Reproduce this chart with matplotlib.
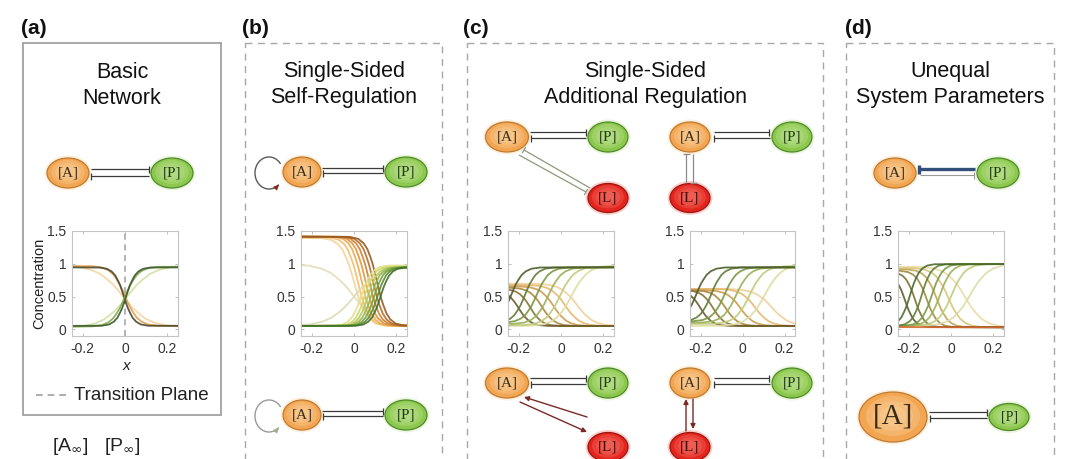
import matplotlib
matplotlib.use("Agg")
import matplotlib.pyplot as plt
from matplotlib.patches import Ellipse, Rectangle, Arc
import math

plt.rcParams['font.family'] = ['Liberation Sans', 'DejaVu Sans']
plt.rcParams['axes.unicode_minus'] = False

# sigmoid profile: offset from the curve midpoint, fraction of the start level left
shape_dx = [-0.115, -0.08, -0.0575, -0.041, -0.028, -0.018, -0.009, 0.0,
            0.009, 0.018, 0.028, 0.041, 0.0575, 0.08, 0.115]
shape_f = [0.993, 0.971, 0.924, 0.858, 0.769, 0.690, 0.599, 0.5,
           0.401, 0.310, 0.231, 0.142, 0.076, 0.029, 0.007]

x_ticks = [-0.2, 0, 0.2]
x_ticklabels = ['-0.2', '0', '0.2']
y_ticks = [0, 0.5, 1, 1.5]
y_ticklabels = ['0', '0.5', '1', '1.5']

# (a) basic network, light -> dark
a_A_mid = [-0.01, 0.0, -0.005]
a_A_start = [0.98, 0.97, 0.95]
a_A_end = [0.03, 0.05, 0.05]
a_A_spread = [2.6, 1.35, 1.0]
a_P_mid = [0.01, 0.0, 0.005]
a_P_start = [0.02, 0.04, 0.05]
a_P_end = [0.98, 0.96, 0.95]
a_P_spread = [2.6, 1.35, 1.0]

# (b) self-regulation
b_A_mid = [-0.005, 0.0, 0.018, 0.036, 0.054, 0.072, 0.09, 0.108]
b_A_start = [1.0, 1.4, 1.41, 1.42, 1.42, 1.42, 1.42, 1.42]
b_A_end = [0.05, 0.05, 0.05, 0.05, 0.05, 0.05, 0.05, 0.05]
b_A_spread = [2.6, 1.3, 1.15, 1.1, 1.1, 1.1, 1.1, 1.1]
b_P_mid = [0.0, 0.035, 0.05, 0.065, 0.08, 0.095, 0.11, 0.125]
b_P_start = [0.05, 0.05, 0.05, 0.05, 0.05, 0.05, 0.05, 0.05]
b_P_end = [0.95, 0.98, 0.96, 0.95, 0.95, 0.95, 0.95, 0.95]
b_P_spread = [2.6, 1.1, 1.0, 1.0, 1.0, 1.0, 1.0, 1.0]

# (c) additional regulation, left: inhibition by L
cl_A_mid = [0.075, 0.02, -0.035, -0.09, -0.145, -0.2]
cl_A_start = [0.7, 0.68, 0.66, 0.64, 0.62, 0.6]
cl_A_end = [0.05, 0.05, 0.05, 0.05, 0.05, 0.05]
cl_A_spread = [1.7, 1.5, 1.4, 1.3, 1.2, 1.2]
cl_P_mid = [0.05, -0.005, -0.06, -0.115, -0.17, -0.235]
cl_P_start = [0.05, 0.06, 0.08, 0.1, 0.1, 0.1]
cl_P_end = [0.98, 0.96, 0.95, 0.95, 0.95, 0.95]
cl_P_spread = [1.7, 1.5, 1.4, 1.3, 1.2, 1.2]

# (c) right: mutual inhibition with L
cr_A_mid = [0.14, 0.06, -0.01, -0.08, -0.14, -0.2]
cr_A_start = [0.62, 0.62, 0.6, 0.6, 0.6, 0.6]
cr_A_end = [0.05, 0.05, 0.05, 0.05, 0.05, 0.05]
cr_A_spread = [1.8, 1.5, 1.4, 1.3, 1.2, 1.2]
cr_P_mid = [0.106, 0.034, -0.03, -0.085, -0.149, -0.22]
cr_P_start = [0.05, 0.08, 0.1, 0.12, 0.12, 0.12]
cr_P_end = [1.0, 0.97, 0.95, 0.95, 0.95, 0.95]
cr_P_spread = [1.8, 1.5, 1.4, 1.3, 1.2, 1.2]

# (d) unequal parameters
d_A_mid = [0.066, -0.013, -0.068, -0.115, -0.17, -0.217, -0.5]
d_A_start = [0.96, 0.94, 0.92, 0.9, 0.88, 0.86, 0.9]
d_A_end = [0.03, 0.03, 0.03, 0.03, 0.03, 0.03, 0.03]
d_A_spread = [1.9, 1.4, 1.2, 1.1, 1.0, 1.0, 1.0]
d_P_mid = [0.09, 0.003, -0.052, -0.09, -0.138, -0.193]
d_P_start = [0.05, 0.05, 0.05, 0.05, 0.05, 0.05]
d_P_end = [1.0, 1.0, 1.0, 1.0, 1.0, 1.0]
d_P_spread = [1.9, 1.4, 1.2, 1.1, 1.0, 1.0]

# colours, light -> dark
a_A_colors = ['#f6d6a0', '#e2a050', '#4c4930']
a_P_colors = ['#d2e2a6', '#86aa52', '#3d5a2b']
b_A_colors = ['#e6dcb8', '#f6d49a', '#f2bf6e', '#eca952', '#e09540', '#cd8233', '#b56e2a', '#985a22']
b_P_colors = ['#dcdcb4', '#e3e08a', '#cfd66e', '#b3c85a', '#93b54a', '#75a03e', '#5a8a34', '#41702a']
c_A_colors = ['#f2d09a', '#e6b870', '#cc9d50', '#ab873e', '#8b7134', '#6a5a2c']
c_P_colors = ['#dedca2', '#bfcb7a', '#9ab057', '#7a9741', '#607b35', '#4e5e2c']
d_A_colors = ['#ecdca4', '#dcc47a', '#c0a858', '#9c8c40', '#7a7234', '#5e5a2e', '#d9682e']
d_P_colors = ['#dcdca8', '#bfcc7c', '#9cb35a', '#7c9a42', '#5f8034', '#4a6a2c']

W, H = 1080, 459
fig = plt.figure(figsize=(W / 100, H / 100), dpi=100)
ov = fig.add_axes([0, 0, 1, 1])
ov.set_xlim(0, W)
ov.set_ylim(H, 0)
ov.axis('off')


def family(ax, mids, starts, ends, spreads, colors):
    for m, s0, s1, sp, col in zip(mids, starts, ends, spreads, colors):
        xs = [-0.6] + [m + sp * d for d in shape_dx] + [0.6]
        ys = [s0] + [s1 + (s0 - s1) * f for f in shape_f] + [s1]
        ax.plot(xs, ys, color=col, lw=1.3, alpha=0.9, solid_joinstyle='round')


def plot_axes(left, right, top=231, bottom=336):
    ax = fig.add_axes([left / W, 1 - bottom / H, (right - left) / W, (bottom - top) / H])
    ax.set_xlim(-0.25, 0.25)
    ax.set_ylim(-0.1, 1.5)
    ax.set_xticks(x_ticks)
    ax.set_xticklabels(x_ticklabels)
    ax.set_yticks(y_ticks)
    ax.set_yticklabels(y_ticklabels)
    ax.tick_params(direction='in', length=2.5, width=0.6, color='#b5b5b5',
                   labelsize=10, labelcolor='#333333', top=True, right=True, pad=4)
    for sp in ax.spines.values():
        sp.set_color('#c4c4c4')
        sp.set_linewidth(0.8)
    return ax


node_style = {'A': ('#f2a652', '#bf7a30', '#fad6a6', '#3d2b1a'),
              'P': ('#8cc74e', '#4f8a2c', '#c6e79c', '#1f3a12'),
              'L': ('#e3251e', '#9c1510', '#f57a6e', '#4a0a08')}


def node(x, y, label, kind, w=42, h=30, fs=11):
    fill, edge, light, tc = node_style[kind]
    ov.add_patch(Ellipse((x, y), w + 5, h + 5, facecolor=light, edgecolor='none', alpha=0.35))
    ov.add_patch(Ellipse((x, y), w, h, facecolor=fill, edgecolor=edge, lw=0.9))
    for k in (0.8, 0.6, 0.4):
        ov.add_patch(Ellipse((x, y - 1), w * k, h * k, facecolor=light, edgecolor='none', alpha=0.3))
    ov.text(x, y, label, ha='center', va='center', fontsize=fs, color=tc,
            family=['Liberation Serif', 'DejaVu Serif'])


def inhibit(x0, y0, x1, y1, color='#3a3a3a', lw=0.9, bar=7):
    ov.plot([x0, x1], [y0, y1], color=color, lw=lw, solid_capstyle='butt')
    dx, dy = x1 - x0, y1 - y0
    L = math.hypot(dx, dy)
    nx, ny = -dy / L, dx / L
    ov.plot([x1 - nx * bar / 2, x1 + nx * bar / 2], [y1 - ny * bar / 2, y1 + ny * bar / 2],
            color=color, lw=lw, solid_capstyle='butt')


def activate(x0, y0, x1, y1, color='#7a2a24', lw=1.0):
    ov.annotate('', xy=(x1, y1), xytext=(x0, y0),
                arrowprops=dict(arrowstyle='-|>', color=color, lw=lw, mutation_scale=7,
                                shrinkA=0, shrinkB=0))


def loop(cx, cy, arc_color, head_color):
    ov.add_patch(Arc((cx, cy), 28, 32, theta1=50, theta2=322, color=arc_color, lw=1.0))
    ex, ey = cx + 14 * math.cos(math.radians(50)), cy + 16 * math.sin(math.radians(50))
    activate(ex - 3, ey + 3.5, ex + 1, ey - 0.5, color=head_color, lw=0.8)


# panel frames
ov.add_patch(Rectangle((23, 43), 198, 372, fill=False, edgecolor='#9a9a9a', lw=1.2))
for x0, x1 in [(245, 442), (467, 823), (846, 1054)]:
    ov.add_patch(Rectangle((x0, 43), x1 - x0, 440, fill=False, edgecolor='#a8a8a8',
                           lw=1.0, ls=(0, (5, 4))))

for lab, x in [('(a)', 21), ('(b)', 242), ('(c)', 463), ('(d)', 845)]:
    ov.text(x, 28, lab, fontsize=15, fontweight='bold', ha='left', va='center', color='#111111')

titles = [(122, 'Basic', 'Network'), (344, 'Single-Sided', 'Self-Regulation'),
          (645, 'Single-Sided', 'Additional Regulation'), (950, 'Unequal', 'System Parameters')]
for cx, t1, t2 in titles:
    ov.text(cx, 72, t1, fontsize=15.5, ha='center', va='center', color='#111111')
    ov.text(cx, 98, t2, fontsize=15.5, ha='center', va='center', color='#111111')

# (a) diagram
inhibit(91, 169, 149, 169)
inhibit(149, 176, 91, 176)
node(68, 173, '[A]', 'A')
node(172, 173, '[P]', 'P')

# (b) diagrams
for yc, arc_c, head_c in [(172, '#5a5a5a', '#8b2a1f'), (415, '#9a9a9a', '#a0ad8c')]:
    inhibit(322, yc - 4, 383, yc - 4)
    inhibit(383, yc + 1, 323, yc + 1)
    loop(269, yc + 1, arc_c, head_c)
    node(302, yc, '[A]', 'A', w=38)
    node(406, yc, '[P]', 'P')

# (c) diagrams
for yA, yL, act in [(137, 198, False), (383, 447, True)]:
    inhibit(530, yA - 5, 586, yA - 5)
    inhibit(586, yA + 1, 531, yA + 1)
    inhibit(714, yA - 5, 769, yA - 5)
    inhibit(770, yA + 1, 714, yA + 1)
    if act:
        activate(587, yL - 30, 524, yL - 50)
        activate(520, yA + 19, 587, yL - 15)
        activate(686, yL - 16, 686, yA + 16)
        activate(693, yA + 16, 693, yL - 18)
    else:
        inhibit(590, yL - 10, 524, yA + 13, color='#8c9a78')
        inhibit(519, yA + 18, 586, yL - 6, color='#8c9a78')
        inhibit(686, yL - 15, 686, yA + 17, color='#8a8a8a')
        inhibit(693, yA + 17, 693, yL - 15, color='#8a8a8a')
    node(507, yA, '[A]', 'A', w=43)
    node(608, yA, '[P]', 'P', w=40)
    node(608, yL, '[L]', 'L', w=40, h=29)
    node(690, yA, '[A]', 'A', w=40)
    node(792, yA, '[P]', 'P', w=40)
    node(690, yL, '[L]', 'L', w=40, h=29)

# (d) diagrams
inhibit(975, 169, 919, 169, color='#34507a', lw=2.4, bar=9)
inhibit(920, 175, 974, 175, color='#9a9a9a', lw=0.8)
node(895, 173, '[A]', 'A')
node(998, 173, '[P]', 'P')
inhibit(929, 412, 987, 412)
inhibit(987, 418, 930, 418)
node(893, 417, '[A]', 'A', w=68, h=50, fs=21)
node(1009, 417, '[P]', 'P', w=40, h=27, fs=10)

# (a) legend and bottom text
ov.plot([36, 67], [395, 395], color='#a0a0a0', lw=1.2, ls=(0, (4, 3)))
ov.text(74, 395, 'Transition Plane', fontsize=13.5, ha='left', va='center', color='#222222')
ov.text(39, 283, 'Concentration', fontsize=10.5, rotation=90, ha='center', va='center', color='#222222')
ov.text(126, 366, 'x', fontsize=11, style='italic', ha='center', va='center', color='#222222')
ov.text(52, 457, r'[A$_\infty$]', fontsize=14, ha='left', va='bottom', color='#222222')
ov.text(104, 457, r'[P$_\infty$]', fontsize=14, ha='left', va='bottom', color='#222222')

# concentration profiles
ax_a = plot_axes(72, 178)
ax_a.axvline(0, color='#a0a0a0', lw=1.1, ls=(0, (4, 3)))
family(ax_a, a_A_mid, a_A_start, a_A_end, a_A_spread, a_A_colors)
family(ax_a, a_P_mid, a_P_start, a_P_end, a_P_spread, a_P_colors)

ax_b = plot_axes(301, 407)
family(ax_b, b_A_mid, b_A_start, b_A_end, b_A_spread, b_A_colors)
family(ax_b, b_P_mid, b_P_start, b_P_end, b_P_spread, b_P_colors)

ax_cl = plot_axes(508, 614)
family(ax_cl, cl_A_mid, cl_A_start, cl_A_end, cl_A_spread, c_A_colors)
family(ax_cl, cl_P_mid, cl_P_start, cl_P_end, cl_P_spread, c_P_colors)

ax_cr = plot_axes(690, 795)
family(ax_cr, cr_A_mid, cr_A_start, cr_A_end, cr_A_spread, c_A_colors)
family(ax_cr, cr_P_mid, cr_P_start, cr_P_end, cr_P_spread, c_P_colors)

ax_d = plot_axes(898, 1004)
family(ax_d, d_A_mid[:-1], d_A_start[:-1], d_A_end[:-1], d_A_spread[:-1], d_A_colors[:-1])
family(ax_d, d_P_mid, d_P_start, d_P_end, d_P_spread, d_P_colors)
family(ax_d, d_A_mid[-1:], d_A_start[-1:], d_A_end[-1:], d_A_spread[-1:], d_A_colors[-1:])

fig.savefig('out.png', dpi=100)
